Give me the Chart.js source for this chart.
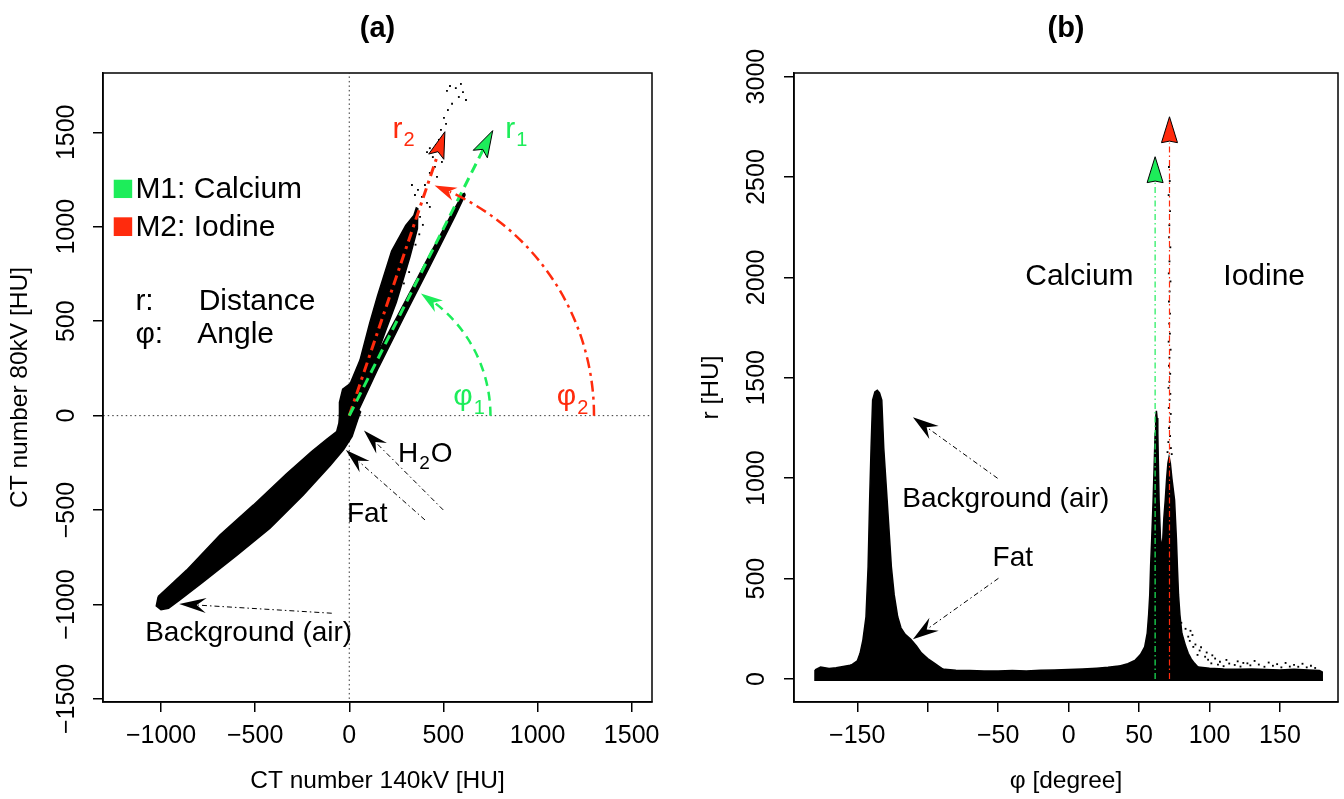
<!DOCTYPE html>
<html><head><meta charset="utf-8">
<script src="https://cdn.jsdelivr.net/npm/chart.js@4.4.1/dist/chart.umd.min.js"></script>
<style>
html,body{margin:0;padding:0;background:#fff;overflow:hidden}
#wrap{position:relative;width:1344px;height:799px;background:#fff}
canvas{position:absolute;top:0}
#ca{left:0}
#cb{left:691px}
</style></head><body>
<div id="wrap"><canvas id="ca" width="672" height="799"></canvas><canvas id="cb" width="653" height="799"></canvas></div>
<script>
// ================= DATA: panel (a) =================
const xTicksA = [-1000, -500, 0, 500, 1000, 1500];
const xLabelsA = ['\u22121000', '\u2212500', '0', '500', '1000', '1500'];
const yTicksA = [-1500, -1000, -500, 0, 500, 1000, 1500];
const yLabelsA = ['\u22121500', '\u22121000', '\u2212500', '0', '500', '1000', '1500'];

// outline of the dense air / fat / water cloud (CT140, CT80)
const airFatWaterBandA = [[-1015,-958],[-952,-900],[-864,-818],[-687,-632],[-510,-474],[-333,-308],[-200,-190],[-120,-125],[-67,-85],[-55,-40],[-50,20],[-40,90],[20,60],[60,20],[45,-20],[15,-110],[-30,-180],[-100,-262],[-244,-420],[-421,-596],[-598,-740],[-776,-880],[-900,-975],[-960,-1020],[-1000,-1027],[-1025,-1008],[-1015,-958]];
// outline of the dense iodine cloud
const iodineCloudA = [[-50,0],[-52,70],[-35,140],[5,170],[57,294],[108,488],[150,633],[225,872],[300,1007],[343,1060],[356,1100],[364,1096],[362,990],[322,840],[250,600],[196,457],[128,270],[50,87],[30,0],[-50,0]];
// outline of the dense calcium line
const calciumCloudA = [[0,-10],[-3,58],[121,276],[263,540],[403,806],[545,1070],[604,1174],[612,1176],[615,1168],[563,1059],[428,791],[291,524],[156,256],[50,30],[40,-5],[0,-10]];
// sparse iodine points beyond the dense cloud
const sparseIodineA = [[519,1719],[535,1745],[566,1734],[582,1687],[604,1713],[620,1671],[546,1651],[593,1756],[503,1576],[514,1545],[487,1513],[524,1618],[413,1395],[428,1416],[444,1369],[492,1343],[455,1317],[428,1285],[466,1264],[365,1195],[386,1158],[413,1126],[428,1105],[376,1052],[391,1010],[349,1168],[333,1221],[402,1221],[476,1460],[460,1433],[372,960],[352,905],[318,760],[290,700]];
const zeroLineVA = [[0,-2000],[0,2000]];
const zeroLineHA = [[-2000,0],[2000,0]];
const r1LineA = [[0,0],[714,1414]];
const r2LineA = [[0,0],[468,1375]];

// ================= DATA: panel (b) =================
const xTicksB = [-150, -100, -50, 0, 50, 100, 150];
const xLabelsB = ['\u2212150', '', '\u221250', '0', '50', '100', '150'];
const yTicksB = [0, 500, 1000, 1500, 2000, 2500, 3000];
const yLabelsB = ['0', '500', '1000', '1500', '2000', '2500', '3000'];

// low-r band of points over all angles (phi, r)
const baseBandB = [[-180,45],[-176,60],[-170,52],[-165,56],[-160,62],[-155,68],[-150,75],[-92,55],[-88,48],[-80,44],[-70,42],[-60,40],[-50,40],[-40,42],[-30,40],[-20,44],[-10,45],[0,47],[10,50],[20,54],[28,58],[34,64],[92,60],[100,54],[110,50],[120,48],[130,50],[140,47],[150,45],[160,48],[170,45],[178,42],[180,35],[180,-6],[-180,-6],[-180,45]];
// background (air) + fat peak outline
const airFatPeakB = [[-162,50],[-154,70],[-150,90],[-148,128],[-146,194],[-143.8,310],[-142.3,559],[-141.2,891],[-140.2,1150],[-139.1,1389],[-137.5,1430],[-135.8,1438],[-134.2,1425],[-132.6,1389],[-131.2,1150],[-128.8,891],[-125.8,559],[-123.8,420],[-121.3,310],[-119,255],[-116,222],[-112,198],[-108,165],[-104.5,130],[-100,102],[-95.6,80],[-89.5,50],[-89.5,10],[-162,10],[-162,50]];
// calcium + iodine peak outline
const caIPeakB = [[28,45],[35,62],[42,76],[47,92],[51,122],[54,160],[55.8,228],[56.8,320],[57.6,420],[58.2,560],[59,700],[60,891],[60.9,1100],[61.4,1224],[61.8,1300],[62.3,1335],[62.8,1300],[63.3,1224],[64.2,891],[65.2,700],[66.5,650],[67.6,800],[68.6,891],[69.6,1000],[70.5,1075],[71.3,1105],[72.2,1075],[73.3,1000],[75.2,891],[76.5,700],[77.2,560],[78,420],[79,320],[80.4,228],[83,165],[84.9,128],[87,100],[89.4,78],[92,58],[94,10],[26,10],[28,45]];
// sparse iodine points at high r
const sparseIodineB = [[71.2,2550],[71.8,2480],[71.0,2410],[72.0,2330],[71.5,2260],[71.3,2200],[72.2,2150],[71.6,2080],[71.1,2020],[72.3,1980],[71.7,1930],[71.2,1880],[72.0,1820],[71.4,1770],[71.9,1720],[71.0,1680],[72.4,1640],[71.6,1600],[71.2,1560],[72.1,1520],[71.5,1480],[70.9,1450],[72.2,1420],[71.7,1390],[71.1,1350],[72.5,1320],[71.8,1280],[71.3,1250],[72.0,1210],[70.8,1180],[72.6,1150],[73.2,1120],[70.2,1130]];
// sparse points right of the iodine peak
const sparseRightB = [[84.9,211],[87.9,219],[86,190],[88.5,160],[90,172],[91.5,120],[93,142],[94,158],[96.9,111],[98,132],[99,96],[101.3,78],[102,118],[104,102],[106,72],[107.4,86],[110,64],[112,95],[114,77],[117.9,70],[120,88],[122,62],[124,80],[126.9,78],[129,68],[132,90],[135,72],[139,61],[142,82],[145,66],[148,74],[151,58],[154,80],[157,62],[160,70],[163,61],[166,76],[169,58],[172,66],[175,55],[83,250],[86.5,240],[80,280]];
const calciumLineB = [[61.4,0],[61.4,2472]];
const iodineLineB = [[71.6,0],[71.6,2671]];

// ================= STYLE / ANNOTATIONS =================
const FAMILY = "'Liberation Sans', Arial, Helvetica, sans-serif";
Chart.defaults.font.family = FAMILY;
const GREEN = '#1ded5a', RED = '#ff2b0d';
const DOTDASH = [5, 3, 1.5, 3];

const annotA = {
  title: '(a)',
  arcs: [
    {r: 750, a0: 0, a1: 59.5, color: GREEN, dash: [9, 6], width: 2.5, headL: 22, headW: 7, notch: 0.3},
    {r: 1300, a0: 0, a1: 69.6, color: RED, dash: [11, 5, 3, 5], width: 2.5, headL: 22, headW: 7, notch: 0.3}
  ],
  arrows: [
    {from: [696, 1385], to: [762, 1509], W: 8, notch: 0.2, fill: GREEN, stroke: '#000'},
    {from: [462, 1371], to: [508, 1503], W: 8, notch: 0.2, fill: RED, stroke: '#000'},
    {line: true, from: [-93, -1046], to: [-903, -997], L: 27, W: 7.5, notch: 0.35, fill: '#000'},
    {line: true, from: [499, -499], to: [78, -79], L: 25, W: 7.5, notch: 0.35, fill: '#000'},
    {line: true, from: [402, -552], to: [-18, -182], L: 25, W: 7.5, notch: 0.35, fill: '#000'}
  ],
  squares: [
    {x0: -1251, y0: 1249, x1: -1153, y1: 1152, color: GREEN},
    {x0: -1251, y0: 1050, x1: -1153, y1: 951, color: RED}
  ],
  texts: [
    {x: 230, y: 1468, parts: [['r'], ['2', 1]], color: RED, size: 30},
    {x: 829, y: 1468, parts: [['r'], ['1', 1]], color: GREEN, size: 30},
    {x: 552, y: 54, parts: [['\u03c6'], ['1', 1]], color: GREEN, size: 30},
    {x: 1102, y: 54, parts: [['\u03c6'], ['2', 1]], color: RED, size: 30},
    {x: -1136, y: 1152, parts: [['M1: Calcium']], color: '#000', size: 30},
    {x: -1136, y: 951, parts: [['M2: Iodine']], color: '#000', size: 30},
    {x: -1136, y: 560, parts: [['r:']], color: '#000', size: 30},
    {x: -800, y: 560, parts: [['Distance']], color: '#000', size: 30},
    {x: -1136, y: 383, parts: [['\u03c6:']], color: '#000', size: 30},
    {x: -807, y: 383, parts: [['Angle']], color: '#000', size: 30},
    {x: 259, y: -244, parts: [['H'], ['2', 1], ['O']], color: '#000', size: 28},
    {x: -12, y: -561, parts: [['Fat']], color: '#000', size: 28},
    {x: -1084, y: -1193, parts: [['Background (air)']], color: '#000', size: 28}
  ]
};
const annotB = {
  title: '(b)',
  arcs: [],
  arrows: [
    {from: [61.4, 2472], to: [61.4, 2601], W: 8, notch: 0.06, fill: GREEN, stroke: '#000'},
    {from: [71.6, 2671], to: [71.6, 2800], W: 8, notch: 0.06, fill: RED, stroke: '#000'},
    {line: true, from: [-50.4, 999.5], to: [-110.5, 1303], L: 26, W: 8, notch: 0.35, fill: '#000'},
    {line: true, from: [-49.8, 501.5], to: [-110.5, 198], L: 26, W: 8, notch: 0.35, fill: '#000'}
  ],
  squares: [],
  texts: [
    {x: -30.8, y: 1962, parts: [['Calcium']], color: '#000', size: 30},
    {x: 109.8, y: 1962, parts: [['Iodine']], color: '#000', size: 30},
    {x: -118.0, y: 855, parts: [['Background (air)']], color: '#000', size: 28},
    {x: -54.0, y: 564, parts: [['Fat']], color: '#000', size: 28}
  ]
};

function head(ctx, base, tip, W, notch, fill, stroke) {
  const dx = tip[0] - base[0], dy = tip[1] - base[1];
  const L = Math.hypot(dx, dy), ux = dx / L, uy = dy / L, nx = -uy, ny = ux;
  const mx = tip[0] - ux * L * (1 - notch), my = tip[1] - uy * L * (1 - notch);
  ctx.beginPath();
  ctx.moveTo(tip[0], tip[1]);
  ctx.lineTo(base[0] + nx * W, base[1] + ny * W);
  ctx.lineTo(mx, my);
  ctx.lineTo(base[0] - nx * W, base[1] - ny * W);
  ctx.closePath();
  ctx.fillStyle = fill; ctx.fill();
  if (stroke) { ctx.setLineDash([]); ctx.lineWidth = 1; ctx.strokeStyle = stroke; ctx.stroke(); }
}

function makeAnnot(spec) {
  return {
    id: 'annot',
    afterDatasetsDraw(chart) {
      const ctx = chart.ctx, xs = chart.scales.x, ys = chart.scales.y;
      const P = (x, y) => [xs.getPixelForValue(x), ys.getPixelForValue(y)];
      ctx.save();
      for (const a of spec.arcs) {
        const [cx, cy] = P(0, 0);
        const rx = Math.abs(xs.getPixelForValue(a.r) - cx), ry = Math.abs(ys.getPixelForValue(a.r) - cy);
        const a0 = a.a0 * Math.PI / 180, a1 = a.a1 * Math.PI / 180;
        const dth = a.headL / ((rx + ry) / 2);
        ctx.beginPath();
        ctx.ellipse(cx, cy, rx, ry, 0, -a0, -(a1 - dth * 0.75), true);
        ctx.setLineDash(a.dash); ctx.lineWidth = a.width; ctx.strokeStyle = a.color; ctx.stroke();
        ctx.setLineDash([]);
        const tip = [cx + rx * Math.cos(a1), cy - ry * Math.sin(a1)];
        const b = [cx + rx * Math.cos(a1 - dth), cy - ry * Math.sin(a1 - dth)];
        head(ctx, b, tip, a.headW, a.notch, a.color, null);
      }
      for (const a of spec.arrows) {
        const f = P(a.from[0], a.from[1]), t = P(a.to[0], a.to[1]);
        if (a.line) {
          const dx = t[0] - f[0], dy = t[1] - f[1], d = Math.hypot(dx, dy), ux = dx / d, uy = dy / d;
          ctx.beginPath(); ctx.moveTo(f[0], f[1]); ctx.lineTo(t[0] - ux * a.L * 0.7, t[1] - uy * a.L * 0.7);
          ctx.setLineDash(DOTDASH); ctx.lineWidth = 1; ctx.strokeStyle = '#000'; ctx.stroke(); ctx.setLineDash([]);
          head(ctx, [t[0] - ux * a.L, t[1] - uy * a.L], t, a.W, a.notch, a.fill, a.stroke);
        } else {
          head(ctx, f, t, a.W, a.notch, a.fill, a.stroke);
        }
      }
      for (const s of spec.squares) {
        const p0 = P(s.x0, s.y0), p1 = P(s.x1, s.y1);
        ctx.fillStyle = s.color; ctx.fillRect(p0[0], p0[1], p1[0] - p0[0], p1[1] - p0[1]);
      }
      for (const t of spec.texts) {
        let [x, y] = P(t.x, t.y);
        ctx.fillStyle = t.color; ctx.textAlign = 'left'; ctx.textBaseline = 'alphabetic';
        for (const [str, sub] of t.parts) {
          const fs = sub ? Math.round(t.size * 0.68) : t.size;
          ctx.font = fs + 'px ' + FAMILY;
          if (sub) x += 1;
          ctx.fillText(str, x, sub ? y + t.size * 0.27 : y);
          x += ctx.measureText(str).width + (sub ? 1 : 0);
        }
      }
      ctx.restore();
    },
    afterDraw(chart) {
      const {ctx, chartArea: ca} = chart;
      ctx.save();
      ctx.strokeStyle = '#000'; ctx.lineWidth = 1.5; ctx.setLineDash([]);
      ctx.strokeRect(ca.left, ca.top, ca.right - ca.left, ca.bottom - ca.top);
      ctx.font = 'bold 29px ' + FAMILY; ctx.fillStyle = '#000';
      ctx.textAlign = 'center'; ctx.textBaseline = 'alphabetic';
      ctx.fillText(spec.title, (ca.left + ca.right) / 2, 37);
      ctx.restore();
    }
  };
}

function axis(isY, min, max, ticks, labels, title, tickPad) {
  return {
    type: 'linear', position: isY ? 'left' : 'bottom', min, max,
    afterBuildTicks: s => { s.ticks = ticks.map(v => ({value: v})); },
    afterFit: s => { if (isY) s.width = 103; else s.height = 97; },
    grid: {display: true, drawOnChartArea: false, drawTicks: true, tickLength: 10, lineWidth: 1.5, color: '#000', tickColor: '#000'},
    border: {display: true, color: '#000', width: 1.5},
    ticks: {
      autoSkip: false, color: '#000', font: {family: FAMILY, size: 25}, padding: tickPad,
      minRotation: isY ? 90 : 0, maxRotation: isY ? 90 : 0, crossAlign: isY ? 'center' : 'near',
      callback: (v) => { const i = ticks.indexOf(v); return i >= 0 ? labels[i] : ''; }
    },
    title: {display: true, text: title, color: '#000', font: {family: FAMILY, size: 24.5},
      padding: isY ? {top: 5.3, bottom: 0} : {top: 0, bottom: 3.3}}
  };
}

const XY = arr => arr.map(([x, y]) => ({x, y}));
const poly = (arr, order) => ({data: XY(arr), showLine: true, fill: 'shape', backgroundColor: '#000', borderColor: '#000', borderWidth: 1.5, pointRadius: 0, order});
const pts = (arr, order) => ({data: XY(arr), showLine: false, pointRadius: 1.3, pointStyle: 'rect', backgroundColor: '#000', borderWidth: 0, order});
const line = (arr, color, width, dash, order) => ({data: XY(arr), showLine: true, fill: false, borderColor: color, borderWidth: width, borderDash: dash, pointRadius: 0, order});

const common = (padRight) => ({
  responsive: false, animation: false, events: [],
  layout: {padding: {left: 0, top: 73, right: padRight, bottom: 0}, autoPadding: false},
  plugins: {legend: {display: false}, tooltip: {enabled: false}, title: {display: false}}
});

new Chart(document.getElementById('ca'), {
  type: 'scatter',
  data: {datasets: [
    line(zeroLineVA, '#333', 1, [1.5, 3], 30),
    line(zeroLineHA, '#333', 1, [1.5, 3], 30),
    poly(airFatWaterBandA, 20),
    poly(iodineCloudA, 19),
    poly(calciumCloudA, 18),
    pts(sparseIodineA, 17),
    line(r2LineA, RED, 3, [10, 5, 3, 5], 2),
    line(r1LineA, GREEN, 3, [10, 6], 1)
  ]},
  options: Object.assign(common(20), {
    scales: {
      x: axis(false, -1308, 1608, xTicksA, xLabelsA, 'CT number 140kV [HU]', 9),
      y: axis(true, -1516, 1814, yTicksA, yLabelsA, 'CT number 80kV [HU]', -9.1)
    }
  }),
  plugins: [makeAnnot(annotA)]
});

new Chart(document.getElementById('cb'), {
  type: 'scatter',
  data: {datasets: [
    poly(baseBandB, 20),
    poly(airFatPeakB, 19),
    poly(caIPeakB, 18),
    pts(sparseIodineB, 17),
    pts(sparseRightB, 16),
    line(calciumLineB, GREEN, 1.2, [6, 3, 1.5, 3], 2),
    line(iodineLineB, RED, 1.2, [6, 3, 1.5, 3], 1)
  ]},
  options: Object.assign(common(6), {
    scales: {
      x: axis(false, -194.9, 191.2, xTicksB, xLabelsB, '\u03c6 [degree]', 9),
      y: axis(true, -114.5, 3018, yTicksB, yLabelsB, 'r [HU]', -1.3)
    }
  }),
  plugins: [makeAnnot(annotB)]
});
</script>
</body></html>
